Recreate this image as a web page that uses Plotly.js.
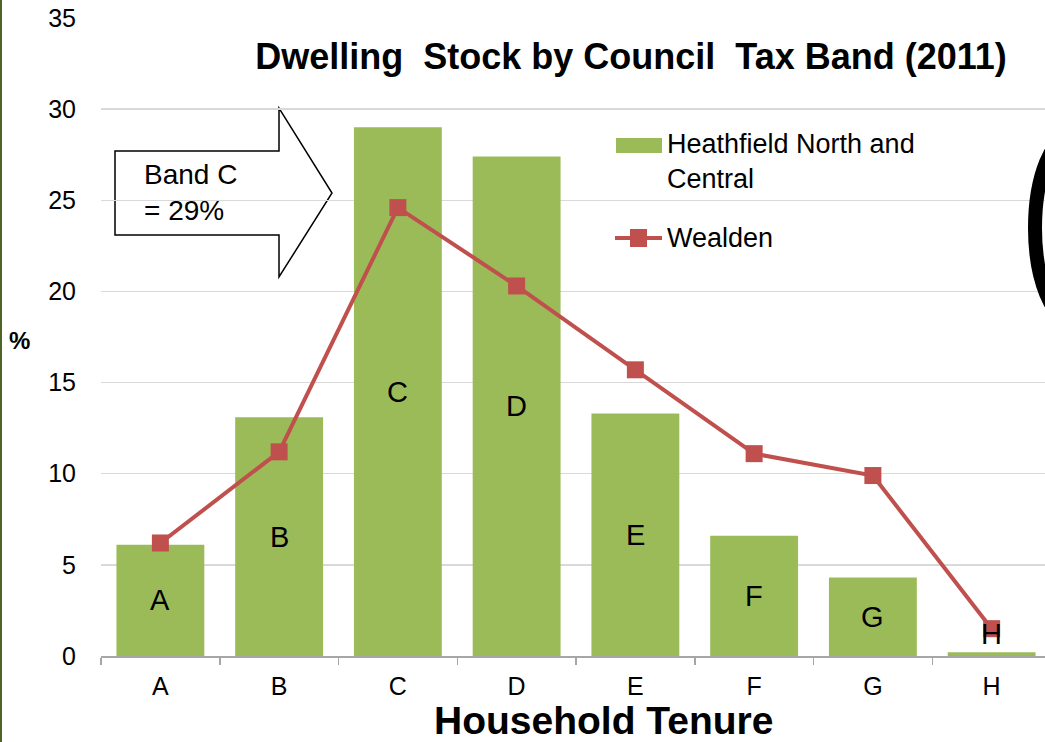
<!DOCTYPE html>
<html>
<head>
<meta charset="utf-8">
<script src="https://cdn.plot.ly/plotly-3.0.1.min.js"></script>
<style>
  html, body { margin: 0; padding: 0; background: #ffffff; overflow: hidden; width: 1045px; height: 742px; }
  #chart { position: absolute; left: 0; top: 0; }
  #edge { position: absolute; left: 0; top: 0; width: 2px; height: 742px; background: #4f6228; z-index: 5; }
</style>
</head>
<body>
<div id="chart"></div>
<div id="edge"></div>
<script>
// ---- data ----
const bands = ['A', 'B', 'C', 'D', 'E', 'F', 'G', 'H'];
const heathfield = [6.1, 13.1, 29.0, 27.4, 13.3, 6.6, 4.3, 0.2];
const wealden = [6.2, 11.2, 24.6, 20.3, 15.7, 11.1, 9.9, 1.5];
const yTicks = [0, 5, 10, 15, 20, 25, 30, 35];
const seriesNames = ['Heathfield North and<br>Central', 'Wealden'];
const chartTitle = 'Dwelling\u00A0 Stock by Council\u00A0 Tax Band (2011)';
const xTitle = 'Household Tenure';
const yTitle = '%';
const calloutText = 'Band C<br>= 29%';

// ---- layout helpers (pixel -> paper) ----
const W = 1060, H = 742;
const M = { l: 101, r: 9, t: 18, b: 86 };
const PW = W - M.l - M.r, PH = H - M.t - M.b;
const YMAX = 35;
const px = x => (x - M.l) / PW;
const py = y => (H - M.b - y) / PH;

const FONT = 'Liberation Sans, Arial, sans-serif';
const GREEN = '#9bbb59';
const RED = '#c0504d';
const LABEL_SIZE = 29;

const barTrace = {
  type: 'bar',
  x: bands,
  y: heathfield,
  name: 'Heathfield North and Central',
  marker: { color: GREEN },
  hoverinfo: 'x+y',
  showlegend: false
};

const lineTrace = {
  type: 'scatter',
  mode: 'lines+markers',
  x: bands,
  y: wealden,
  name: 'Wealden',
  line: { color: RED, width: 4 },
  marker: { symbol: 'square', size: 17, color: RED },
  cliponaxis: false,
  showlegend: false
};

// bar data labels: centred inside the bar when it fits, otherwise just above it
const barLabels = bands.map((b, i) => {
  const v = heathfield[i];
  const fits = v * PH / YMAX > LABEL_SIZE * 1.2;
  return {
    xref: 'x', yref: 'y', x: b,
    y: fits ? v / 2 : v,
    yanchor: fits ? 'middle' : 'bottom',
    xanchor: 'center',
    text: b, showarrow: false,
    font: { family: FONT, size: LABEL_SIZE, color: '#000000' }
  };
});

// arrow callout outline (pixel points)
const arrowPts = [[115, 151], [279, 151], [279, 108], [332, 193], [279, 277], [279, 235], [115, 235]];
const arrowPath = 'M' + arrowPts.map(p => px(p[0]).toFixed(5) + ',' + py(p[1]).toFixed(5)).join(' L') + ' Z';

const layout = {
  width: W,
  height: H,
  margin: M,
  paper_bgcolor: '#ffffff',
  plot_bgcolor: '#ffffff',
  font: { family: FONT, color: '#000000' },
  bargap: 0.26,
  showlegend: false,
  title: {
    text: '<b>' + chartTitle + '</b>',
    font: { family: FONT, size: 36, color: '#000000' },
    xref: 'container', yref: 'container',
    x: 631 / W, xanchor: 'center',
    y: 1 - 56 / H, yanchor: 'middle'
  },
  xaxis: {
    type: 'category',
    categoryarray: bands,
    showline: true,
    linecolor: '#a6a6a6',
    linewidth: 1.5,
    ticks: 'outside',
    tickson: 'boundaries',
    ticklen: 7,
    tickwidth: 1.5,
    tickcolor: '#a6a6a6',
    showgrid: false,
    tickfont: { family: FONT, size: 25, color: '#000000' },
    ticklabelstandoff: 7,
    fixedrange: true
  },
  yaxis: {
    range: [0, YMAX],
    tickvals: yTicks,
    ticktext: yTicks.map(String),
    showgrid: true,
    gridcolor: '#d9d9d9',
    gridwidth: 1.5,
    zeroline: false,
    showline: false,
    ticks: '',
    tickfont: { family: FONT, size: 25, color: '#000000' },
    ticklabelstandoff: 24,
    fixedrange: true
  },
  shapes: [
    {
      type: 'path', xref: 'paper', yref: 'paper', layer: 'between',
      path: arrowPath,
      fillcolor: '#ffffff',
      line: { color: '#000000', width: 1.5 }
    },
    {
      type: 'rect', xref: 'paper', yref: 'paper', layer: 'above',
      x0: px(616), x1: px(662), y0: py(153), y1: py(138),
      fillcolor: GREEN, line: { width: 0 }
    },
    {
      type: 'line', xref: 'paper', yref: 'paper', layer: 'above',
      x0: px(615), x1: px(662), y0: py(238), y1: py(238),
      line: { color: RED, width: 4 }
    },
    {
      type: 'rect', xref: 'paper', yref: 'paper', layer: 'above',
      x0: px(630), x1: px(647), y0: py(247), y1: py(229),
      fillcolor: RED, line: { width: 0 }
    },
    {
      type: 'circle', xref: 'paper', yref: 'paper', layer: 'above',
      x0: px(1035), x1: px(1111), y0: py(321), y1: py(135),
      line: { color: '#000000', width: 14 }
    }
  ],
  annotations: barLabels.concat([
    {
      xref: 'paper', yref: 'paper', x: px(142), y: py(192),
      xanchor: 'left', yanchor: 'middle', align: 'left',
      text: calloutText, showarrow: false,
      font: { family: FONT, size: 28, color: '#000000' }
    },
    {
      xref: 'paper', yref: 'paper', x: px(665), y: py(161),
      xanchor: 'left', yanchor: 'middle', align: 'left',
      text: seriesNames[0], showarrow: false,
      font: { family: FONT, size: 27, color: '#000000' }
    },
    {
      xref: 'paper', yref: 'paper', x: px(665), y: py(238),
      xanchor: 'left', yanchor: 'middle', align: 'left',
      text: seriesNames[1], showarrow: false,
      font: { family: FONT, size: 27, color: '#000000' }
    },
    {
      xref: 'paper', yref: 'paper', x: px(603), y: py(720),
      xanchor: 'center', yanchor: 'middle',
      text: '<b>' + xTitle + '</b>', showarrow: false,
      borderpad: 0,
      font: { family: FONT, size: 39, color: '#000000' }
    },
    {
      xref: 'paper', yref: 'paper', x: px(19), y: py(340),
      xanchor: 'center', yanchor: 'middle',
      text: '<b>' + yTitle + '</b>', showarrow: false,
      font: { family: FONT, size: 24, color: '#000000' }
    }
  ])
};

Plotly.newPlot('chart', [barTrace, lineTrace], layout, { staticPlot: true, displayModeBar: false });
</script>
</body>
</html>
